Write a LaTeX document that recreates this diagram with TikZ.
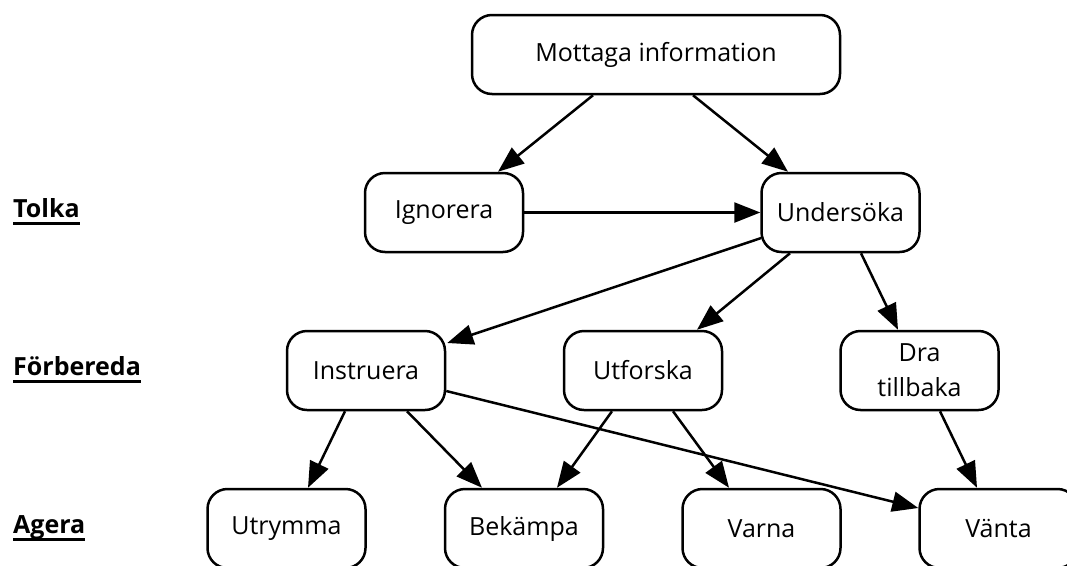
\documentclass[tikz,border=0pt]{standalone}
\usepackage{fontspec}
\setmainfont{Open Sans}
\usetikzlibrary{arrows.meta,calc}
\begin{document}
\begin{tikzpicture}[x=1pt,y=-1pt,
  box/.style={draw=black,line width=2.5pt,rounded corners=20pt,minimum width=158pt,minimum height=79pt,inner sep=0pt,align=center,font=\fontsize{25}{35}\selectfont},
  wide/.style={minimum width=368pt},
  lab/.style={anchor=base west,inner sep=0pt,font=\fontsize{25}{30}\selectfont\bfseries},
  uline/.style={line width=3pt},
  conn/.style={line width=2.5pt,-{Triangle[length=26pt,width=20pt]}}]
\useasboundingbox (0,0) rectangle (1067,565);
\clip (0,0) rectangle (1067,565);
% row labels
\node[lab] (tolka) at (13,217) {Tolka};
\node[lab] (forb) at (13,375) {Förbereda};
\node[lab] (agera) at (13,533) {Agera};
\draw[uline] ($(tolka.base west)+(0,6)$) -- ($(tolka.base east)+(0,6)$);
\draw[uline] ($(forb.base west)+(0,6)$) -- ($(forb.base east)+(0,6)$);
\draw[uline] ($(agera.base west)+(0,6)$) -- ($(agera.base east)+(0,6)$);
% nodes
\node[box,wide] (m) at (656,54.5) {Mottaga information};
\node[box] (ign) at (444,212.5) {Ignorera};
\node[box] (und) at (840.5,212.5) {Undersöka};
\node[box] (ins) at (366,370.5) {Instruera};
\node[box] (utf) at (643,370.5) {Utforska};
\node[box] (dra) at (919.5,370.5) {Dra\\tillbaka};
\node[box] (utr) at (286.5,528.5) {Utrymma};
\node[box] (bek) at (524,528.5) {Bekämpa};
\node[box] (var) at (761.5,528.5) {Varna};
\node[box] (van) at (998.5,528.5) {Vänta};
% connectors
\draw[conn] ($(m.south)+(-63,0)$) -- ($(ign.north)+(54,0)$);
\draw[conn] ($(m.south)+(37,0)$) -- ($(und.north)+(-52.5,0)$);
\draw[conn] (ign.east) -- (und.west);
\draw[conn] ($(und.west)+(1,25.5)$) -- ($(ins.east)+(1,-27.5)$);
\draw[conn] ($(und.south)+(-50.5,0)$) -- ($(utf.north)+(54,0)$);
\draw[conn] ($(und.south)+(20.5,0)$) -- ($(dra.north)+(-21.5,0)$);
\draw[conn] ($(ins.south)+(-21,0)$) -- ($(utr.north)+(21.5,0)$);
\draw[conn] ($(ins.south)+(41,0)$) -- ($(bek.north)+(-42,0)$);
\draw[conn] ($(ins.east)+(0,20.5)$) -- ($(van.west)+(0,-20.5)$);
\draw[conn] ($(utf.south)+(-31,0)$) -- ($(bek.north)+(33,0)$);
\draw[conn] ($(utf.south)+(30,0)$) -- ($(var.north)+(-32.5,0)$);
\draw[conn] ($(dra.south)+(20.5,0)$) -- ($(van.north)+(-21.5,0)$);
\end{tikzpicture}
\end{document}
